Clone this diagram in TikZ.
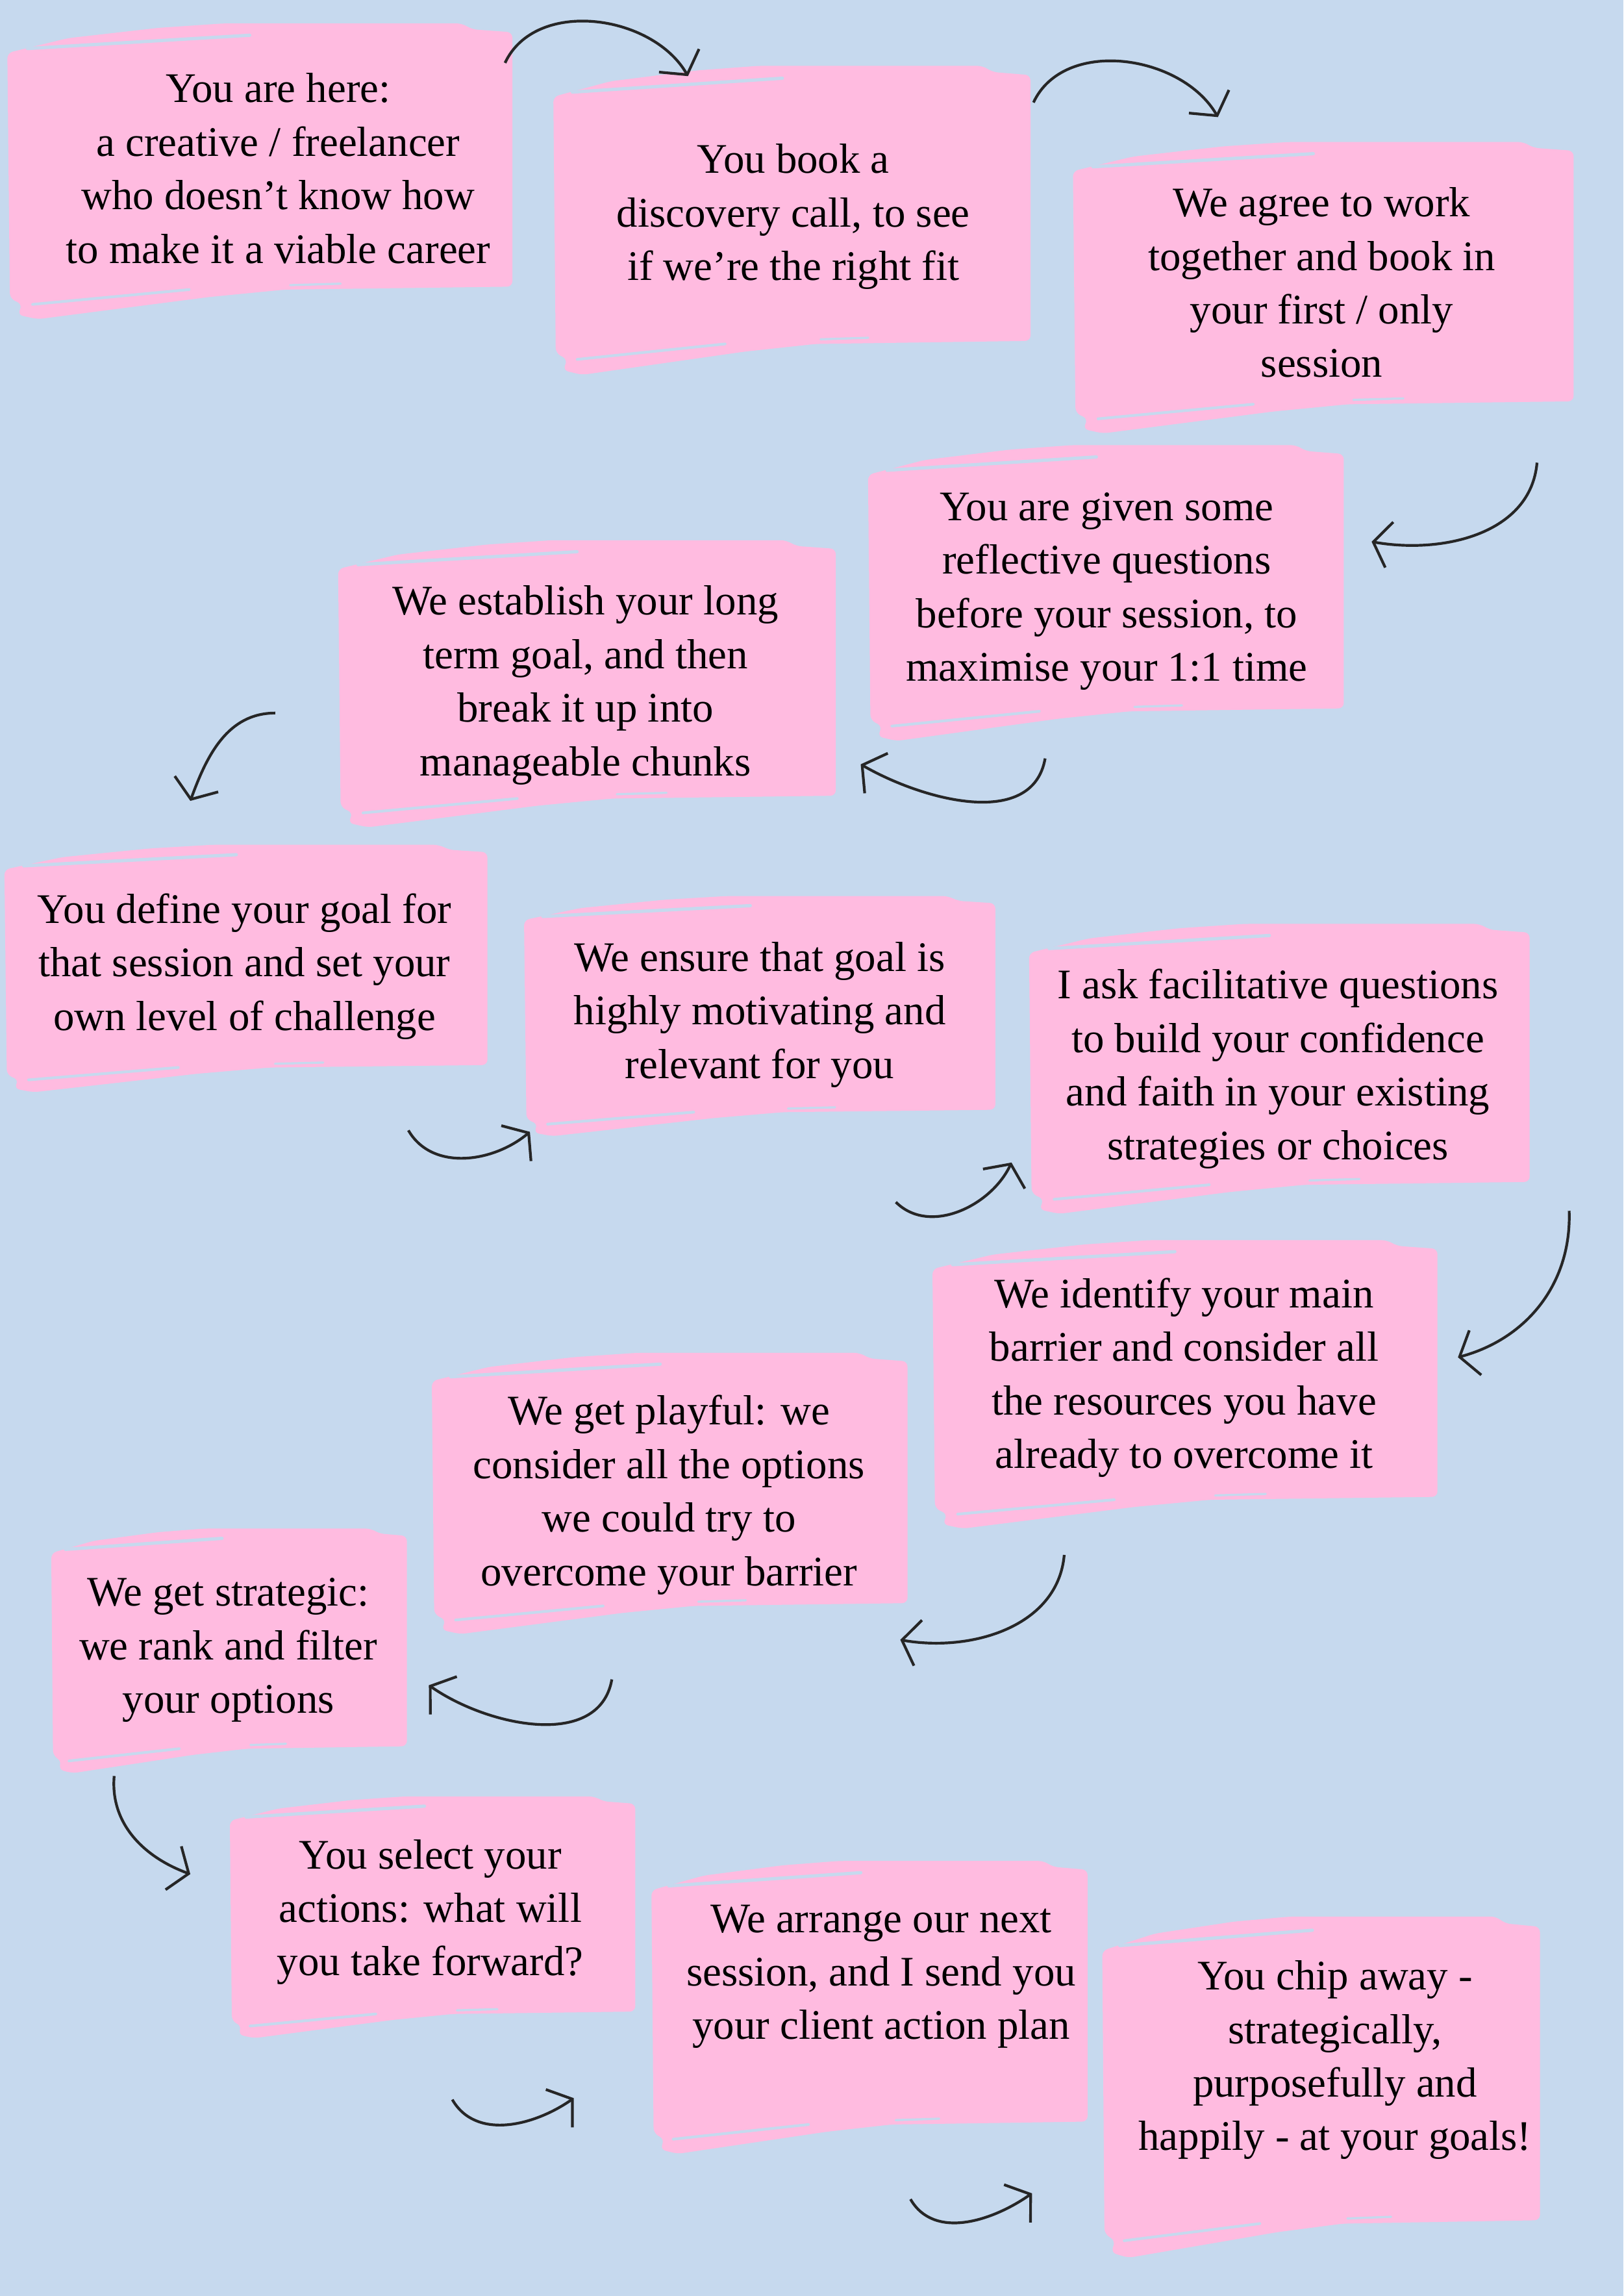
\documentclass[tikz,border=0pt]{standalone}
\usepackage{fontspec}
\setmainfont{Liberation Serif}
\usepackage{xcolor}
\usepackage{tikz}
\usetikzlibrary{arrows.meta}
\definecolor{PowderBlue}{HTML}{C6D9EE}
\definecolor{BrushPink}{HTML}{FFBBE0}

% pink brush stroke: bottom-left x, y, width, height
\newcommand{\brushbox}[4]{%
  \begin{scope}[shift={(#1,#2)},xscale=#3,yscale=#4]
    \fill[BrushPink, rounded corners=2pt] (0,0.90) -- (0.12,0.95) -- (0.30,0.985) -- (0.43,1) -- (0.90,1) -- (0.92,0.98) -- (1,0.97) -- (1,0.11) -- (0.55,0.10) -- (0.40,0.075) -- (0.06,0) -- (0.02,0.015) -- (0.03,0.05) -- (0.005,0.07) -- cycle;
    \draw[PowderBlue, line width=1.2pt, line cap=round] (0.04,0.915) -- (0.48,0.96);
    \draw[PowderBlue, line width=1pt, line cap=round] (0.05,0.05) -- (0.36,0.10);
    \draw[PowderBlue, line width=0.8pt, line cap=round] (0.56,0.115) -- (0.66,0.12);
  \end{scope}}

\begin{document}
\begin{tikzpicture}[
    steptext/.style={align=center, inner sep=0pt, text=black, font=\fontsize{15.5}{19.7}\selectfont},
    hand/.style={line width=1pt, draw=black!85, -{Straight Barb[length=6pt,width=17pt]}}]
  \useasboundingbox (0,0) rectangle (21,29.694);
  \fill[PowderBlue] (0,0) rectangle (21,29.694);

  \brushbox{0.095}{25.566}{6.533}{3.825}
  \brushbox{7.158}{24.846}{6.173}{3.996}
  \brushbox{13.880}{24.089}{6.476}{3.768}
  \brushbox{11.229}{20.112}{6.154}{3.825}
  \brushbox{4.374}{18.995}{6.438}{3.712}
  \brushbox{0.057}{15.568}{6.249}{3.200}
  \brushbox{6.779}{15.000}{6.097}{3.105}
  \brushbox{13.312}{13.996}{6.476}{3.749}
  \brushbox{12.062}{9.925}{6.533}{3.730}
  \brushbox{5.586}{8.561}{6.154}{3.636}
  \brushbox{0.663}{6.762}{4.601}{3.163}
  \brushbox{2.973}{3.335}{5.245}{3.125}
  \brushbox{8.427}{1.839}{5.642}{3.787}
  \brushbox{14.259}{0.495}{5.662}{4.412}

  \node[steptext] (here) at (3.598,27.516) {You are here:\\ a creative / freelancer\\ who doesn’t know how\\ to make it a viable career};
  \node[steptext] (call) at (10.263,26.891) {You book a\\ discovery call, to see\\ if we’re the right fit};
  \node[steptext] (agree) at (17.099,26.039) {We agree to work\\ together and book in\\ your first / only\\ session};
  \node[steptext] (reflect) at (14.316,22.044) {You are given some\\ reflective questions\\ before your session, to\\ maximise your 1:1 time};
  \node[steptext] (longterm) at (7.574,20.832) {We establish your long\\ term goal, and then\\ break it up into\\ manageable chunks};
  \node[steptext] (define) at (3.162,17.196) {You define your goal for\\ that session and set your\\ own level of challenge};
  \node[steptext] (ensure) at (9.828,16.571) {We ensure that goal is\\ highly motivating and\\ relevant for you};
  \node[steptext] (facil) at (16.531,15.871) {I ask facilitative questions\\ to build your confidence\\ and faith in your existing\\ strategies or choices};
  \node[steptext] (barrier) at (15.319,11.875) {We identify your main\\ barrier and consider all\\ the resources you have\\ already to overcome it};
  \node[steptext] (playful) at (8.654,10.360) {We get playful: we\\ consider all the options\\ we could try to\\ overcome your barrier};
  \node[steptext] (strategic) at (2.954,8.353) {We get strategic:\\ we rank and filter\\ your options};
  \node[steptext] (select) at (5.567,4.964) {You select your\\ actions: what will\\ you take forward?};
  \node[steptext] (arrange) at (11.399,4.131) {We arrange our next\\ session, and I send you\\ your client action plan};
  \node[steptext] (chip) at (17.270,3.051) {You chip away -\\ strategically,\\ purposefully and\\ happily - at your goals!};

  % arrow ends
  \coordinate (c1a) at (6.533,28.880);   \coordinate (c1b) at (8.900,28.709);
  \coordinate (c2a) at (13.369,28.368);  \coordinate (c2b) at (15.755,28.179);
  \coordinate (c3a) at (19.883,23.710);  \coordinate (c3b) at (17.743,22.688);
  \coordinate (c4a) at (13.520,19.885);  \coordinate (c4b) at (11.134,19.809);
  \coordinate (c5a) at (3.560,20.472);   \coordinate (c5b) at (2.462,19.336);
  \coordinate (c6a) at (5.283,15.075);   \coordinate (c6b) at (6.855,15.056);
  \coordinate (c7a) at (11.589,14.147);  \coordinate (c7b) at (13.085,14.659);
  \coordinate (c8a) at (20.299,14.034);  \coordinate (c8b) at (18.860,12.140);
  \coordinate (c9a) at (13.767,9.584);   \coordinate (c9b) at (11.646,8.486);
  \coordinate (c10a) at (7.915,7.974);   \coordinate (c10b) at (5.548,7.899);
  \coordinate (c11a) at (1.477,6.725);   \coordinate (c11b) at (2.462,5.456);
  \coordinate (c12a) at (5.851,2.540);   \coordinate (c12b) at (7.423,2.559);
  \coordinate (c13a) at (11.778,1.252);  \coordinate (c13b) at (13.350,1.328);

  \draw[hand] (c1a) to[out=65,in=120] (c1b);
  \draw[hand] (c2a) to[out=65,in=120] (c2b);
  \draw[hand] (c3a) to[out=-95,in=-10] (c3b);
  \draw[hand] (c4a) to[out=-100,in=-30] (c4b);
  \draw[hand] (c5a) to[out=180,in=70] (c5b);
  \draw[hand] (c6a) to[out=-60,in=220] (c6b);
  \draw[hand] (c7a) to[out=-45,in=245] (c7b);
  \draw[hand] (c8a) to[out=-88,in=15] (c8b);
  \draw[hand] (c9a) to[out=-95,in=-10] (c9b);
  \draw[hand] (c10a) to[out=-100,in=-35] (c10b);
  \draw[hand] (c11a) to[out=-95,in=160] (c11b);
  \draw[hand] (c12a) to[out=-60,in=215] (c12b);
  \draw[hand] (c13a) to[out=-60,in=215] (c13b);
\end{tikzpicture}
\end{document}
